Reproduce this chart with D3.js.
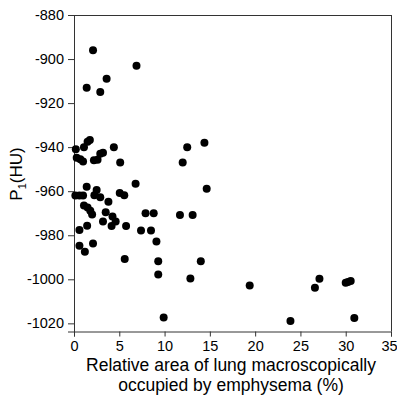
<!DOCTYPE html>
<html><head><meta charset="utf-8">
<script src="https://cdn.jsdelivr.net/npm/d3@7"></script>
<style>
html,body{margin:0;padding:0;background:#fff;}
svg text{font-family:"Liberation Sans",Arial,Helvetica,sans-serif;fill:#000;}
</style></head>
<body>
<svg id="chart" width="397" height="409"></svg>
<script>
// Relative area of lung occupied by emphysema (%)
const emphysema = [2.1,6.9,3.6,1.4,2.9,
  0.2,1.1,1.5,1.75,4.4,0.3,0.7,1.0,2.2,2.6,2.9,3.2,5.1,12.0,12.5,14.4,
  1.4,0.15,0.6,1.0,2.5,2.25,2.9,3.8,5.05,5.55,6.8,14.65,
  1.1,1.5,1.8,2.0,3.5,4.25,3.2,4.6,4.15,5.75,1.45,0.6,7.9,8.8,11.7,13.1,7.4,8.5,9.1,
  0.6,1.2,2.1,5.6,9.3,14.0,9.3,12.85,9.9,19.4,23.9,26.6,27.1,30.0,30.25,30.55,30.95];
// P1 (HU)
const p1 = [-896,-903,-909,-913,-915,
  -941,-940,-937.5,-936.8,-940,-944.8,-945.5,-946.5,-946,-945.7,-943,-942.5,-947,-947,-940,-938,
  -958,-962,-962,-962,-959.5,-961.8,-962.8,-964.8,-960.8,-961.8,-956.6,-958.9,
  -966.5,-967.4,-968.9,-970.6,-969.6,-971.5,-973.8,-973.8,-975.8,-975.8,-975.7,-977.6,-970,-970,-970.8,-970.8,-977.8,-977.8,-982.8,
  -984.8,-987.5,-983.7,-990.8,-991.8,-991.8,-997.8,-999.6,-1017.4,-1002.8,-1018.9,-1003.8,-999.7,-1001.6,-1001.2,-1000.8,-1017.6];
const xTicks = [0,5,10,15,20,25,30,35];
const yTicks = [-880,-900,-920,-940,-960,-980,-1000,-1020];
const xTitle = ["Relative area of lung macroscopically","occupied by emphysema (%)"];

const svg = d3.select("#chart");
const L = 74, R = 391, T = 15, B = 331.5;
const x = d3.scaleLinear().domain([0,35]).range([L,R]);
const y = d3.scaleLinear().domain([-1023.7,-880]).range([B,T]);

// frame top/right
svg.append("line").attr("x1",L).attr("x2",R).attr("y1",T+0.5).attr("y2",T+0.5).attr("stroke","#333");
svg.append("line").attr("x1",R+0.5).attr("x2",R+0.5).attr("y1",T).attr("y2",B).attr("stroke","#333");

const xAxis = svg.append("g").attr("transform",`translate(0,${B})`)
  .call(d3.axisBottom(x).tickValues(xTicks).tickSize(5).tickPadding(4).tickFormat(d3.format("d")));
const yAxis = svg.append("g").attr("transform",`translate(${L},0)`)
  .call(d3.axisLeft(y).tickValues(yTicks).tickSize(6).tickPadding(4).tickFormat(d=>d3.format("d")(d).replace("−","-")));
[xAxis,yAxis].forEach(g=>{
  g.selectAll("path,line").attr("stroke","#333");
  g.selectAll("text").attr("font-size",14.5).attr("font-family","Liberation Sans, Arial, sans-serif");
});
xAxis.selectAll("text").attr("dy","0.71em");
xAxis.selectAll(".tick").filter(d=>d===35).select("text").attr("dx",-2);

svg.append("g").selectAll("circle").data(emphysema).join("circle")
  .attr("cx",(d)=>x(d)).attr("cy",(d,i)=>y(p1[i])).attr("r",4).attr("fill","#000");

const xt = svg.append("text").attr("text-anchor","middle").attr("font-size",17.5)
  .attr("textLength",null);
xt.selectAll("tspan").data(xTitle).join("tspan")
  .attr("x",231).attr("y",(d,i)=>371+i*19.5).text(d=>d);

const yt = svg.append("text").attr("transform","translate(22,174) rotate(-90)")
  .attr("text-anchor","middle").attr("font-size",17);
yt.append("tspan").text("P");
yt.append("tspan").attr("font-size",11).attr("dy",4).text("1");
yt.append("tspan").attr("dy",-4).text("(HU)");
</script>
</body></html>
